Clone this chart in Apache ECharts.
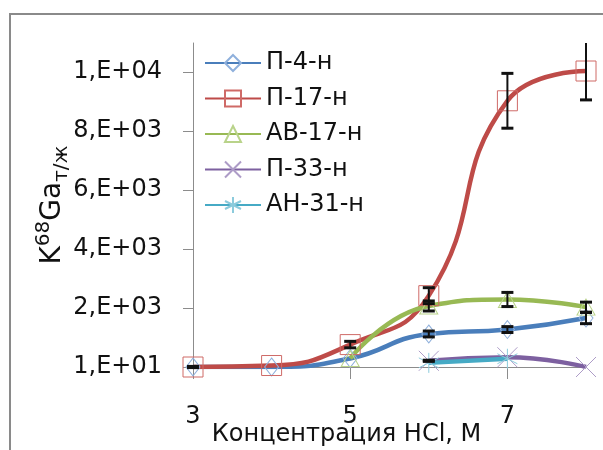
<!DOCTYPE html>
<html>
<head>
<meta charset="utf-8">
<script src="https://cdn.jsdelivr.net/npm/echarts@6/dist/echarts.min.js"></script>
<style>
  html, body { margin: 0; padding: 0; background: #fff; }
  #chart { width: 603px; height: 450px; }
</style>
</head>
<body>
<div id="chart"></div>
<script>
// концентрация HCl, М
const xValues = [3, 4, 5, 6, 7, 8];
const xTicks = [3, 5, 7];
const yTicks = [10, 2010, 4010, 6010, 8010, 10010];

const seriesNames = ['П-4-н', 'П-17-н', 'АВ-17-н', 'П-33-н', 'АН-31-н'];
const p4 = [10, 10, 300, 1130, 1280, 1670];
const p4Err = [20, 0, 0, 100, 100, 190];
const p17 = [10, 60, 770, 2430, 9040, 10050];
const p17Err = [0, 0, 110, 270, 930, 980];
const ab17 = [null, null, 300, 2080, 2300, 2040];
const ab17Err = [null, null, 0, 170, 240, 170];
const p33 = [null, null, null, 220, 340, 10];
const p33Err = [null, null, null, 20, 0, 0];
const an31 = [null, null, null, 150, 290, null];

const FONT = 'DejaVu Sans';
const yMax = 11000;

function pairs(arr) {
  return xValues.map((x, i) => [x, arr[i]]).filter(d => d[1] != null);
}

// точки для планок погрешностей: [x, низ, верх]
function errPairs(vals, errs) {
  const out = [];
  xValues.forEach((x, i) => {
    if (vals[i] != null && errs[i]) out.push([x, vals[i] - errs[i], vals[i] + errs[i]]);
  });
  return out;
}

// формат как в Excel: 1,E+04
function sci(v) {
  const e = Math.floor(Math.log10(v));
  const m = Math.round(v / Math.pow(10, e));
  return m + ',E+' + (e < 10 ? '0' + e : e);
}

function lineSeries(name, data, color, markColor, symbol, size) {
  return {
    name: name,
    type: 'line',
    data: pairs(data),
    smooth: true,
    symbol: symbol,
    symbolSize: size,
    showAllSymbol: true,
    lineStyle: { color: color, width: 4.5 },
    itemStyle: { color: 'transparent', borderColor: markColor, borderWidth: 1 },
    emphasis: { disabled: true },
    z: 2
  };
}

const errData = [].concat(
  errPairs(p4, p4Err),
  errPairs(p17, p17Err),
  errPairs(ab17, ab17Err),
  errPairs(p33, p33Err)
);

const chart = echarts.init(document.getElementById('chart'));
chart.setOption({
  animation: false,
  textStyle: { fontFamily: FONT },
  graphic: [{
    type: 'rect',
    shape: { x: 10, y: 14, width: 700, height: 500 },
    style: { fill: 'none', stroke: '#8a8a8a', lineWidth: 2 },
    silent: true
  }],
  grid: { left: 193, right: 17, top: 43, bottom: 83, outerBoundsMode: 'none' },
  legend: {
    data: seriesNames,
    orient: 'vertical',
    left: 199,
    top: 45,
    itemWidth: 56,
    itemHeight: 20,
    itemGap: 9.5,
    textStyle: { fontSize: 24, color: '#111', fontFamily: FONT, lineHeight: 26 }
  },
  xAxis: {
    type: 'value',
    min: 3,
    max: 8,
    name: 'Концентрация HCl, М',
    nameLocation: 'middle',
    nameGap: 56,
    nameMoveOverlap: false,
    nameTextStyle: { fontSize: 24, color: '#111', fontFamily: FONT, padding: [0, 86, 0, 0] },
    axisLine: { lineStyle: { color: '#8c8c8c', width: 1 } },
    axisTick: { customValues: xTicks, length: 12, lineStyle: { color: '#8c8c8c' } },
    axisLabel: { customValues: xTicks, margin: 38, fontSize: 24, color: '#111' },
    splitLine: { show: false }
  },
  yAxis: {
    type: 'value',
    min: 10,
    max: yMax,
    name: '{k|K}{sup|68}{k|Ga}{sub|т/ж}',
    nameLocation: 'middle',
    nameRotate: 90,
    nameGap: 121,
    nameMoveOverlap: false,
    nameTextStyle: {
      color: '#111',
      rich: {
        k: { fontSize: 28, fontFamily: FONT, color: '#111', lineHeight: 38 },
        sup: { fontSize: 20, fontFamily: FONT, color: '#111', verticalAlign: 'top' },
        sub: { fontSize: 20, fontFamily: FONT, color: '#111', verticalAlign: 'bottom' }
      }
    },
    axisLine: { show: true, lineStyle: { color: '#8c8c8c', width: 1 } },
    axisTick: { show: true, customValues: yTicks, length: 10, lineStyle: { color: '#8c8c8c' } },
    axisLabel: { customValues: yTicks, margin: 31, fontSize: 24, color: '#111', formatter: sci },
    splitLine: { show: false }
  },
  series: [
    lineSeries('П-4-н', p4, '#4a7ebb', '#8fb0dc', 'diamond', [14, 18]),
    lineSeries('П-17-н', p17, '#be4b48', '#cf6a67', 'rect', 20),
    lineSeries('АВ-17-н', ab17, '#98b954', '#b9d38a', 'triangle', [18, 16]),
    lineSeries('П-33-н', p33, '#7d60a0', '#ad9cc7', 'path://M0,0L20,20M20,0L0,20', 20),
    lineSeries('АН-31-н', an31, '#46aac5', '#8ccbdc', 'path://M10,0L10,20M1,5L19,15M19,5L1,15', 20),
    {
      type: 'custom',
      name: 'err',
      data: errData,
      z: 5,
      silent: true,
      renderItem: function (params, api) {
        const x = api.value(0);
        const lo = api.value(1);
        const hi = Math.min(api.value(2), yMax);
        const a = api.coord([x, lo]);
        const b = api.coord([x, hi]);
        const w = 6;
        const st = { stroke: '#111', lineWidth: 2 };
        const cap = { stroke: '#111', lineWidth: 3 };
        const kids = [
          { type: 'line', shape: { x1: a[0], y1: a[1], x2: b[0], y2: b[1] }, style: st },
          { type: 'line', shape: { x1: a[0] - w, y1: a[1], x2: a[0] + w, y2: a[1] }, style: cap }
        ];
        if (api.value(2) <= yMax) {
          kids.push({ type: 'line', shape: { x1: b[0] - w, y1: b[1], x2: b[0] + w, y2: b[1] }, style: cap });
        }
        return { type: 'group', children: kids };
      }
    }
  ]
});
</script>
</body>
</html>
